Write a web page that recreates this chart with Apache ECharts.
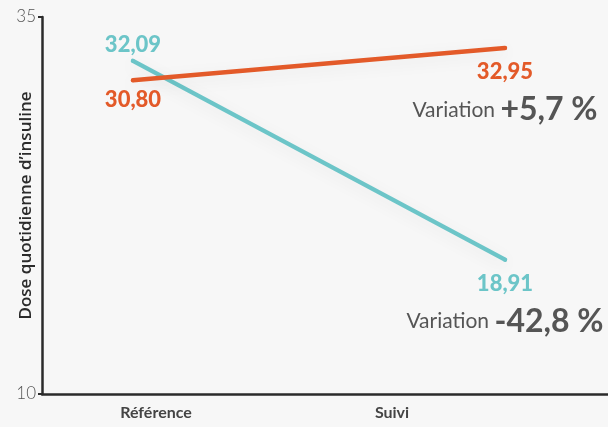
<!DOCTYPE html>
<html>
<head>
<meta charset="utf-8">
<script src="https://cdn.jsdelivr.net/npm/echarts@6/dist/echarts.min.js"></script>
<style>
  html, body { margin: 0; padding: 0; background: #f7f7f7; }
  #chart { width: 608px; height: 427px; }
</style>
</head>
<body>
<div id="chart"></div>
<script>
const categories = ['Référence', 'Suivi'];
const orangeValues = [30.80, 32.95];
const tealValues = [32.09, 18.91];
const orangeVariation = '+5,7 %';
const tealVariation = '-42,8 %';
const yTicks = [10, 35];

const ORANGE = '#e35a29';
const TEAL = '#6cc5c8';
const FONT = 'Lato';

function fmt(v) {
	return v.toFixed(2).replace('.', ',');
}

// line points: x = category index on a hidden value axis
function points(values, color, startPos, variation) {
	return values.map(function (v, i) {
		let item = { value: [i, v] };
		if (i === 0) {
			item.label = { position: startPos, distance: startPos === 'top' ? 3 : 7 };
		} else {
			item.label = {
				position: 'bottom',
				distance: 4,
				formatter: '{v|' + fmt(v) + '}\n{s|Variation }{b|' + variation + '}',
				rich: {
					v: { align: 'center', fontSize: 22, fontWeight: 900, color: color, lineHeight: 36, fontFamily: FONT },
					s: { fontSize: 21, fontWeight: 'normal', color: '#555', lineHeight: 40, fontFamily: FONT },
					b: { fontSize: 32, fontWeight: 'bold', color: '#555', lineHeight: 40, fontFamily: FONT }
				}
			};
		}
		return item;
	});
}

function lineSeries(name, values, color, startPos, variation) {
	return {
		name: name,
		type: 'line',
		xAxisIndex: 0,
		yAxisIndex: 0,
		data: points(values, color, startPos, variation),
		symbol: 'circle',
		symbolSize: 4,
		itemStyle: { color: color },
		silent: true,
		lineStyle: {
			color: color,
			width: 4.5,
			cap: 'round',
			shadowBlur: 16,
			shadowColor: 'rgba(0,0,0,0.08)',
			shadowOffsetY: 4
		},
		label: {
			show: true,
			color: color,
			fontSize: 22,
			fontWeight: 900,
			fontFamily: FONT,
			formatter: function (p) { return fmt(p.value[1]); }
		}
	};
}

const chart = echarts.init(document.getElementById('chart'));
chart.setOption({
	backgroundColor: '#f7f7f7',
	animation: false,
	grid: [
		{ left: 42, right: 0, top: 17, bottom: 33, outerBoundsMode: 'none' },
		{ left: 38, width: 472, top: 17, bottom: 33, outerBoundsMode: 'none' }
	],
	xAxis: [
		{
			type: 'value',
			gridIndex: 0,
			min: -0.2446,
			max: 1.2769,
			splitLine: { show: false },
			axisLabel: { show: false },
			axisTick: { show: false },
			axisLine: { show: true, onZero: false, lineStyle: { color: '#2b2b2b', width: 2.5 } }
		},
		{
			type: 'category',
			gridIndex: 1,
			data: categories,
			axisLine: { show: false },
			axisTick: { show: false },
			axisLabel: { margin: 11, color: '#444', fontSize: 16, fontWeight: 'bold', fontFamily: FONT }
		}
	],
	yAxis: [
		{
			type: 'value',
			gridIndex: 0,
			min: 10,
			max: 35,
			name: 'Dose quotidienne d\u2019insuline',
			nameLocation: 'middle',
			nameGap: 7,
			nameMoveOverlap: false,
			nameTextStyle: { color: '#2b2b2b', fontSize: 17, fontWeight: 600, fontFamily: 'Open Sans' },
			splitLine: { show: false },
			axisLine: { show: true, onZero: false, lineStyle: { color: '#2b2b2b', width: 2.5 } },
			axisTick: { show: true, length: 4, customValues: yTicks, lineStyle: { color: '#2b2b2b', width: 2 } },
			axisLabel: { customValues: yTicks, margin: 6, color: '#555', fontSize: 17, fontWeight: 300, fontFamily: FONT }
		},
		{
			type: 'value',
			gridIndex: 1,
			show: false
		}
	],
	series: [
		lineSeries('Teal', tealValues, TEAL, 'top', tealVariation),
		lineSeries('Orange', orangeValues, ORANGE, 'bottom', orangeVariation)
	]
});
</script>
</body>
</html>
